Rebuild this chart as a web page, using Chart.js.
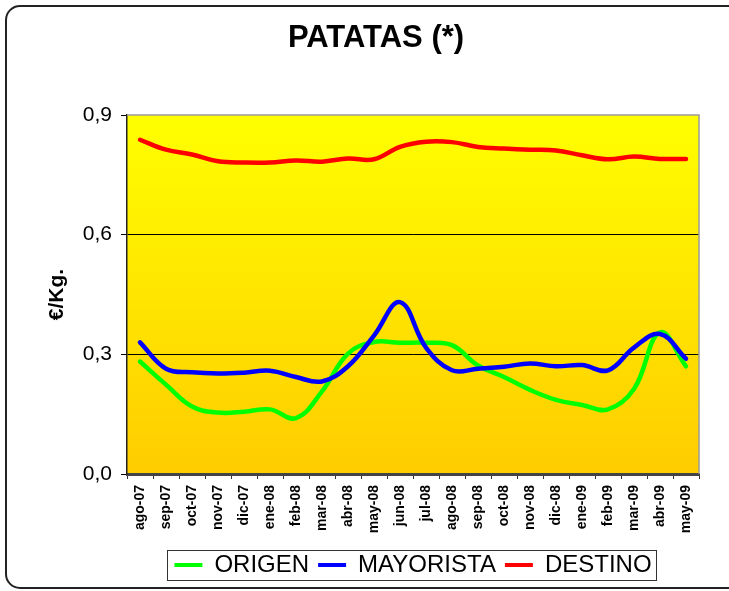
<!DOCTYPE html>
<html>
<head>
<meta charset="utf-8">
<script src="https://cdn.jsdelivr.net/npm/chart.js@4/dist/chart.umd.min.js"></script>
<style>
  html, body { margin: 0; padding: 0; background: #fff; }
  #wrap { width: 729px; height: 591px; }
</style>
</head>
<body>
<div id="wrap"><canvas id="c" width="729" height="591"></canvas></div>
<script>
// Monthly potato prices (€/Kg.) at origin, wholesale and retail
const months = ['ago-07','sep-07','oct-07','nov-07','dic-07','ene-08','feb-08','mar-08','abr-08','may-08','jun-08','jul-08',
                'ago-08','sep-08','oct-08','nov-08','dic-08','ene-09','feb-09','mar-09','abr-09','may-09'];
const origen    = [0.282,0.224,0.169,0.154,0.156,0.162,0.140,0.207,0.302,0.331,0.329,0.329,
                   0.323,0.272,0.243,0.211,0.186,0.173,0.162,0.213,0.355,0.270];
const mayorista = [0.330,0.264,0.255,0.252,0.254,0.259,0.243,0.232,0.270,0.347,0.431,0.317,
                   0.260,0.264,0.269,0.277,0.270,0.273,0.260,0.317,0.351,0.289];
const destino   = [0.838,0.813,0.801,0.784,0.781,0.781,0.786,0.783,0.791,0.789,0.820,0.833,
                   0.832,0.820,0.816,0.813,0.811,0.799,0.789,0.796,0.790,0.790];
const yMin = 0, yMax = 0.9, yStep = 0.3;

const FONT = 'Arial, "Liberation Sans", Helvetica, sans-serif';

// Gradient plot background, plot frame, legend box and outer rounded frame
const decorations = {
  id: 'decorations',
  beforeDraw(chart) {
    const { ctx, chartArea: a } = chart;
    ctx.save();
    ctx.fillStyle = '#fff';
    ctx.fillRect(0, 0, chart.width, chart.height);
    const g = ctx.createLinearGradient(0, a.top, 0, a.bottom);
    g.addColorStop(0, '#FFFF00');
    g.addColorStop(1, '#FFCC00');
    ctx.fillStyle = g;
    ctx.fillRect(a.left, a.top, a.right - a.left, a.bottom - a.top);
    ctx.restore();
  },
  afterDatasetsDraw(chart) {
    const { ctx, chartArea: a } = chart;
    ctx.save();
    ctx.strokeStyle = '#9a9a9a';
    ctx.lineWidth = 1.5;
    ctx.beginPath();
    ctx.moveTo(a.left, a.top);
    ctx.lineTo(a.right, a.top);
    ctx.lineTo(a.right, a.bottom);
    ctx.stroke();
    ctx.restore();
  },
  afterDraw(chart) {
    const { ctx } = chart;
    ctx.save();
    // legend frame
    const boxes = chart.legend.legendHitBoxes;
    if (boxes && boxes.length) {
      let l = Infinity, r = -Infinity, t = Infinity, b = -Infinity;
      boxes.forEach(h => {
        l = Math.min(l, h.left); r = Math.max(r, h.left + h.width);
        t = Math.min(t, h.top); b = Math.max(b, h.top + h.height);
      });
      ctx.strokeStyle = '#333';
      ctx.lineWidth = 1;
      ctx.strokeRect(Math.round(l - 7) + 0.5, Math.round(t - 3) + 0.5, Math.round(r - l + 12), Math.round(b - t + 6));
    }
    // outer frame
    ctx.strokeStyle = '#222';
    ctx.lineWidth = 2;
    ctx.beginPath();
    ctx.roundRect(6, 6, 760, 582, 14);
    ctx.stroke();
    ctx.restore();
  }
};

new Chart(document.getElementById('c'), {
  type: 'line',
  data: {
    labels: months,
    datasets: [
      { label: 'ORIGEN', data: origen, borderColor: '#00FF00', backgroundColor: '#00FF00', order: 2 },
      { label: 'MAYORISTA', data: mayorista, borderColor: '#0000FF', backgroundColor: '#0000FF', order: 1 },
      { label: 'DESTINO', data: destino, borderColor: '#FF0000', backgroundColor: '#FF0000', order: 0 }
    ].map(d => Object.assign(d, {
      borderWidth: 4.5, tension: 0.4, fill: false,
      pointRadius: 0, pointHoverRadius: 0, pointBorderWidth: 4, pointBorderColor: d.borderColor,
      borderCapStyle: 'round', borderJoinStyle: 'round'
    }))
  },
  options: {
    responsive: false,
    animation: false,
    devicePixelRatio: 1,
    events: [],
    layout: { padding: { left: 53, right: 30, top: 6, bottom: 4 } },
    plugins: {
      title: {
        display: true, text: 'PATATAS (*)', color: '#000',
        font: { family: FONT, size: 31, weight: 'bold' },
        padding: { top: 14, bottom: 57.8 }
      },
      legend: {
        position: 'bottom', fullSize: false,
        labels: {
          usePointStyle: true, pointStyle: 'line', pointStyleWidth: 28,
          color: '#000', font: { family: FONT, size: 24 }, padding: 9,
          sort: (a, b) => a.datasetIndex - b.datasetIndex
        }
      },
      tooltip: { enabled: false }
    },
    scales: {
      x: {
        offset: true,
        grid: { display: true, drawOnChartArea: false, offset: true, tickLength: 5, tickColor: '#333' },
        border: { color: '#444', width: 3 },
        ticks: {
          autoSkip: false, minRotation: 90, maxRotation: 90, padding: 6,
          color: '#000', font: { family: FONT, size: 14, weight: 'bold' }
        },
        afterFit: s => { s.height = 70; }
      },
      y: {
        min: yMin, max: yMax,
        grid: {
          color: c => (c.index === 1 || c.index === 2) ? '#000' : 'rgba(0,0,0,0)',
          lineWidth: 1, tickLength: 6, tickColor: '#000'
        },
        border: { color: '#222', width: 1.5 },
        ticks: {
          stepSize: yStep, padding: 9, color: '#000',
          font: { family: FONT, size: 21 },
          callback: v => Number(v).toFixed(1).replace('.', ',')
        },
        title: {
          display: true, text: '€/Kg.', color: '#000',
          font: { family: FONT, size: 21, weight: 'bold' },
          padding: { top: -8, bottom: 0 }
        },
        afterFit: s => { s.width = 74; }
      }
    }
  },
  plugins: [decorations]
});
</script>
</body>
</html>
